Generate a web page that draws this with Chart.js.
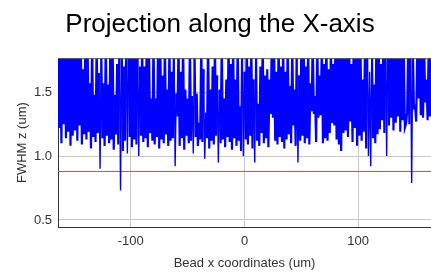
<!DOCTYPE html>
<html>
<head>
<meta charset="utf-8">
<script src="https://cdn.jsdelivr.net/npm/chart.js@4.4.1/dist/chart.umd.min.js"></script>
<style>
  html, body { margin: 0; padding: 0; background: #fff; }
  #chart { display: block; }
</style>
</head>
<body>
<canvas id="chart" width="431" height="272"></canvas>
<script>
// bead positions along x (um)
const beadX = [
  -164, -163, -162, -161, -160, -159, -158, -157, -156, -155,
  -154, -153, -152, -151, -150, -149, -148, -147, -146, -145,
  -144, -143, -142, -141, -140, -139, -138, -137, -136, -135,
  -134, -133, -132, -131, -130, -129, -128, -127, -126, -125,
  -124, -123, -122, -121, -120, -119, -118, -117, -116, -115,
  -114, -113, -112, -111, -110, -109, -108, -107, -106, -105,
  -104, -103, -102, -101, -100, -99, -98, -97, -96, -95,
  -94, -93, -92, -91, -90, -89, -88, -87, -86, -85,
  -84, -83, -82, -81, -80, -79, -78, -77, -76, -75,
  -74, -73, -72, -71, -70, -69, -68, -67, -66, -65,
  -64, -63, -62, -61, -60, -59, -58, -57, -56, -55,
  -54, -53, -52, -51, -50, -49, -48, -47, -46, -45,
  -44, -43, -42, -41, -40, -39, -38, -37, -36, -35,
  -34, -33, -32, -31, -30, -29, -28, -27, -26, -25,
  -24, -23, -22, -21, -20, -19, -18, -17, -16, -15,
  -14, -13, -12, -11, -10, -9, -8, -7, -6, -5,
  -4, -3, -2, -1, 0, 1, 2, 3, 4, 5,
  6, 7, 8, 9, 10, 11, 12, 13, 14, 15,
  16, 17, 18, 19, 20, 21, 22, 23, 24, 25,
  26, 27, 28, 29, 30, 31, 32, 33, 34, 35,
  36, 37, 38, 39, 40, 41, 42, 43, 44, 45,
  46, 47, 48, 49, 50, 51, 52, 53, 54, 55,
  56, 57, 58, 59, 60, 61, 62, 63, 64, 65,
  66, 67, 68, 69, 70, 71, 72, 73, 74, 75,
  76, 77, 78, 79, 80, 81, 82, 83, 84, 85,
  86, 87, 88, 89, 90, 91, 92, 93, 94, 95,
  96, 97, 98, 99, 100, 101, 102, 103, 104, 105,
  106, 107, 108, 109, 110, 111, 112, 113, 114, 115,
  116, 117, 118, 119, 120, 121, 122, 123, 124, 125,
  126, 127, 128, 129, 130, 131, 132, 133, 134, 135,
  136, 137, 138, 139, 140, 141, 142, 143, 144, 145,
  146, 147, 148, 149, 150, 151, 152, 153, 154, 155,
  156, 157, 158, 159, 160, 161, 162, 163, 164
];

// FWHM z of each bead (um)
const fwhmZ = [
  1.90, 1.22, 1.86, 1.10, 1.94, 1.25, 1.88, 1.14, 1.92, 1.19,
  1.85, 1.08, 1.96, 1.16, 1.89, 1.20, 1.91, 1.12, 1.87, 1.24,
  1.93, 1.09, 1.68, 1.17, 1.90, 1.13, 1.88, 1.19, 1.57, 1.06,
  1.92, 1.15, 1.48, 1.11, 1.89, 1.18, 1.65, 0.90, 1.90, 1.14,
  1.57, 1.08, 1.91, 1.16, 1.56, 1.10, 1.87, 1.13, 1.93, 1.05,
  1.48, 1.17, 1.72, 1.09, 1.88, 0.73, 1.92, 1.04, 1.70, 1.12,
  1.89, 1.02, 1.95, 1.15, 1.87, 1.07, 1.91, 1.13, 1.86, 1.09,
  1.93, 1.00, 1.70, 1.16, 1.88, 1.11, 1.70, 1.14, 1.92, 1.07,
  1.89, 1.18, 1.45, 1.12, 1.94, 1.09, 1.45, 1.15, 1.90, 1.06,
  1.87, 1.13, 1.63, 1.10, 1.92, 1.17, 1.52, 1.08, 1.89, 1.12,
  1.66, 1.14, 1.91, 0.92, 1.49, 1.31, 1.88, 1.08, 1.66, 1.14,
  1.93, 1.05, 1.52, 1.16, 1.45, 1.10, 1.91, 1.12, 1.47, 1.02,
  1.88, 1.15, 1.49, 1.08, 1.26, 1.13, 1.90, 1.11, 1.68, 0.98,
  1.34, 1.14, 1.93, 1.06, 1.52, 1.12, 1.70, 1.09, 1.89, 1.16,
  1.63, 0.95, 1.52, 1.10, 1.91, 1.13, 1.45, 1.07, 1.60, 1.15,
  1.90, 1.11, 1.72, 1.05, 1.88, 1.14, 1.60, 1.08, 1.93, 1.12,
  1.39, 1.04, 1.90, 1.00, 1.66, 1.13, 1.92, 1.09, 1.70, 1.16,
  1.88, 1.06, 1.60, 0.95, 1.94, 1.12, 1.41, 1.08, 1.70, 1.18,
  1.89, 1.10, 1.63, 1.14, 1.68, 1.07, 1.60, 1.33, 1.91, 1.30,
  1.88, 1.12, 1.66, 1.09, 1.92, 1.15, 1.70, 1.11, 1.89, 1.06,
  1.66, 1.13, 1.91, 1.17, 1.55, 1.10, 1.88, 1.24, 1.52, 1.08,
  1.92, 0.95, 1.63, 1.12, 1.89, 1.16, 1.93, 1.10, 1.70, 1.14,
  1.88, 1.09, 1.57, 1.35, 1.92, 1.33, 1.47, 1.11, 1.90, 1.30,
  1.63, 1.32, 1.89, 1.10, 1.72, 1.14, 1.94, 1.12, 1.68, 1.18,
  1.88, 1.26, 1.72, 1.24, 1.91, 1.13, 1.87, 1.09, 1.93, 1.04,
  1.90, 1.18, 1.86, 1.20, 1.92, 1.15, 1.89, 1.27, 1.72, 1.11,
  1.91, 1.22, 1.88, 1.08, 1.94, 1.16, 1.87, 1.12, 1.60, 1.19,
  1.92, 1.06, 1.89, 1.00, 1.66, 0.92, 1.90, 1.14, 1.56, 1.10,
  1.93, 1.17, 1.88, 1.21, 1.72, 1.28, 1.91, 1.18, 1.87, 1.00,
  1.94, 1.24, 1.89, 1.30, 1.92, 1.20, 1.86, 1.26, 1.90, 1.31,
  1.93, 1.19, 1.88, 1.28, 1.91, 1.22, 1.25, 1.34, 1.89, 1.25,
  1.92, 0.79, 1.87, 1.38, 1.39, 1.27, 1.90, 1.45, 1.88, 1.32,
  1.93, 1.30, 1.86, 1.42, 1.60, 1.28, 1.91, 1.31, 1.89
];

// horizontal reference level
const levelX = [-164, 164];
const levelZ = [0.88, 0.88];

const xTicks = [-100, 0, 100];
const yTicks = [0.5, 1.0, 1.5];

Chart.defaults.font.family = '"Liberation Sans", Arial, sans-serif';

// box line along the top of the plot
const frame = {
  id: 'frame',
  afterDatasetsDraw(chart) {
    const { ctx, chartArea: a } = chart;
    ctx.save();
    ctx.strokeStyle = '#555';
    ctx.lineWidth = 1;
    ctx.beginPath();
    ctx.moveTo(a.left, a.top + 0.5);
    ctx.lineTo(a.right, a.top + 0.5);
    ctx.stroke();
    ctx.restore();
  }
};

new Chart(document.getElementById('chart').getContext('2d'), {
  type: 'line',
  data: {
    datasets: [
      {
        data: beadX.map((x, i) => ({ x, y: fwhmZ[i] })),
        borderColor: '#0000ff',
        borderWidth: 2.2,
        pointRadius: 0,
        tension: 0,
        clip: 0,
        // the deep outliers look like thin needles
        segment: {
          borderWidth: c => Math.min(c.p0.parsed.y, c.p1.parsed.y) < 1.03 ? 1.4 : 2.2
        }
      },
      {
        data: levelX.map((x, i) => ({ x, y: levelZ[i] })),
        borderColor: 'rgb(228, 60, 50)',
        borderWidth: 1,
        pointRadius: 0
      }
    ]
  },
  options: {
    responsive: false,
    animation: false,
    layout: { padding: { left: 9, right: 0, top: 0, bottom: 0 } },
    plugins: {
      legend: { display: false },
      tooltip: { enabled: false },
      title: {
        display: true,
        text: 'Projection along the X-axis',
        color: '#000',
        font: { size: 26, weight: 'normal' },
        padding: { top: 9, bottom: 18 }
      }
    },
    scales: {
      x: {
        type: 'linear',
        min: -164,
        max: 164,
        afterBuildTicks: s => { s.ticks = xTicks.map(v => ({ value: v })); },
        afterFit: s => { s.height = 45; },
        grid: { color: '#c8c8c8', drawTicks: false },
        border: { color: '#333' },
        ticks: { padding: 7, color: '#333', font: { size: 13 } },
        title: {
          display: true,
          text: 'Bead x coordinates (um)',
          color: '#333',
          font: { size: 13 },
          padding: { top: 0, bottom: 1 }
        }
      },
      y: {
        type: 'linear',
        min: 0.445,
        max: 1.766,
        afterBuildTicks: s => { s.ticks = yTicks.map(v => ({ value: v })); },
        afterFit: s => { s.width = 49; },
        grid: { color: '#c8c8c8', drawTicks: false },
        border: { color: '#333' },
        ticks: { padding: 6, color: '#333', font: { size: 13 }, callback: v => v.toFixed(1) },
        title: {
          display: true,
          text: 'FWHM z (um)',
          color: '#333',
          font: { size: 13 },
          padding: { top: 6, bottom: 0 }
        }
      }
    }
  },
  plugins: [frame]
});
</script>
</body>
</html>
